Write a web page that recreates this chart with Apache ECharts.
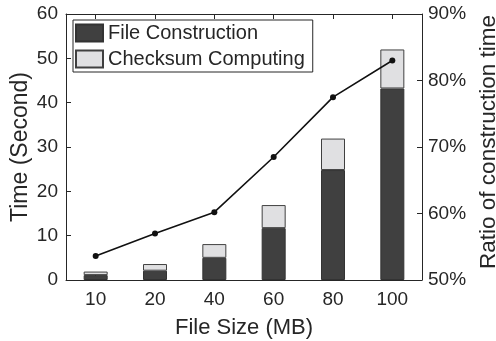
<!DOCTYPE html>
<html><head><meta charset="utf-8">
<script src="https://cdn.jsdelivr.net/npm/echarts@6/dist/echarts.min.js"></script>
<style>html,body{margin:0;padding:0;background:#fff}#c{width:496px;height:341px}</style>
</head><body><div id="c"></div>
<script>
const categories = ['10', '20', '40', '60', '80', '100'];
const fileConstruction = [1.1, 2.1, 5.0, 11.7, 24.8, 43.2];
const checksumComputing = [0.8, 1.5, 3.1, 5.2, 7.1, 8.8];
const ratioPercent = [53.6, 57.0, 60.2, 68.5, 77.5, 83.0];

const txt = '#262626';
const font = 'Liberation Sans';
const axisLine = {show: true, lineStyle: {color: '#262626', width: 1}};
const chart = echarts.init(document.getElementById('c'), null, {renderer: 'canvas'});
chart.setOption({
  animation: false,
  textStyle: {fontFamily: font, color: txt},
  grid: {left: 66, right: 74, top: 14, bottom: 61, containLabel: false, outerBoundsMode: 'none'},
  legend: {
    orient: 'vertical', left: 73, top: 20,
    itemWidth: 27, itemHeight: 17, itemGap: 6,
    padding: [3, 8, 3, 2],
    borderColor: '#262626', borderWidth: 1, backgroundColor: '#fff',
    textStyle: {fontSize: 20, color: txt, fontFamily: font},
    data: [{name: 'File Construction', icon: 'rect'}, {name: 'Checksum Computing', icon: 'rect'}]
  },
  xAxis: [{
    type: 'category', data: categories, position: 'bottom',
    name: 'File Size (MB)', nameLocation: 'middle', nameGap: 37, nameMoveOverlap: false,
    nameTextStyle: {fontSize: 22, color: txt, fontFamily: font},
    axisLine: axisLine,
    axisTick: {show: true, inside: true, alignWithLabel: true, length: 5, lineStyle: {color: '#262626'}},
    axisLabel: {fontSize: 19, color: txt, margin: 10, fontFamily: font},
    splitLine: {show: false}
  }, {
    type: 'category', data: categories, position: 'top',
    axisLine: axisLine,
    axisTick: {show: true, inside: true, alignWithLabel: true, length: 5, lineStyle: {color: '#262626'}},
    axisLabel: {show: false}, splitLine: {show: false}
  }],
  yAxis: [{
    type: 'value', min: 0, max: 60, interval: 10, position: 'left',
    name: 'Time (Second)', nameLocation: 'middle', nameGap: 34, nameMoveOverlap: false,
    nameTextStyle: {fontSize: 23, color: txt, fontFamily: font},
    axisLine: axisLine,
    axisTick: {show: true, inside: true, length: 5, lineStyle: {color: '#262626'}},
    axisLabel: {fontSize: 19, color: txt, margin: 8, fontFamily: font},
    splitLine: {show: false}
  }, {
    type: 'value', min: 50, max: 90, interval: 10, position: 'right',
    name: 'Ratio of construction time', nameLocation: 'middle', nameGap: 55, nameMoveOverlap: false,
    nameRotate: 90,
    nameTextStyle: {fontSize: 22.5, color: txt, fontFamily: font, padding: [0, 0, 0, 10]},
    axisLine: axisLine,
    axisTick: {show: true, inside: true, length: 5, lineStyle: {color: '#262626'}},
    axisLabel: {fontSize: 19, color: txt, margin: 6, fontFamily: font, formatter: '{value}%'},
    splitLine: {show: false}
  }],
  series: [{
    name: 'File Construction', type: 'bar', stack: 't', barWidth: 24,
    data: fileConstruction,
    itemStyle: {color: '#404040', borderColor: '#333', borderWidth: 1}
  }, {
    name: 'Checksum Computing', type: 'bar', stack: 't', barWidth: 24,
    data: checksumComputing,
    itemStyle: {color: '#e0e0e2', borderColor: '#404040', borderWidth: 1}
  }, {
    name: 'Ratio', type: 'line', yAxisIndex: 1, data: ratioPercent,
    symbol: 'circle', symbolSize: 6,
    lineStyle: {color: '#111', width: 1.6},
    itemStyle: {color: '#111'}
  }]
});
</script></body></html>
